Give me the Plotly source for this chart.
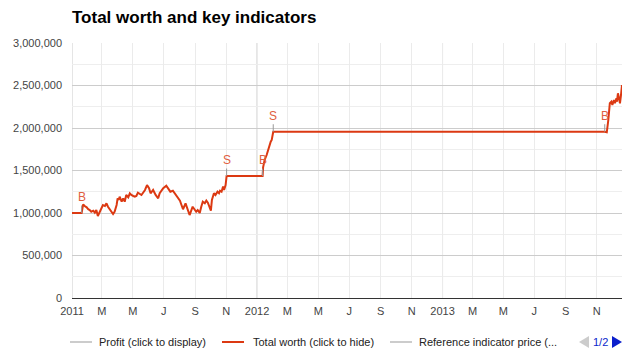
import plotly.graph_objects as go

# ---------------- data ----------------
dates = [
    "2011-01-01", "2011-01-20", "2011-01-21", "2011-01-23", "2011-01-26", "2011-01-30",
    "2011-02-02", "2011-02-05", "2011-02-08", "2011-02-12", "2011-02-15", "2011-02-18",
    "2011-02-21", "2011-02-25", "2011-02-28", "2011-03-03", "2011-03-07", "2011-03-10",
    "2011-03-13", "2011-03-17", "2011-03-20", "2011-03-23", "2011-03-26", "2011-03-30",
    "2011-04-01", "2011-04-03", "2011-04-05", "2011-04-09", "2011-04-12", "2011-04-15",
    "2011-04-18", "2011-04-22", "2011-04-25", "2011-04-28", "2011-05-02", "2011-05-05",
    "2011-05-08", "2011-05-11", "2011-05-18", "2011-05-25", "2011-05-29", "2011-06-02",
    "2011-06-05", "2011-06-10", "2011-06-15", "2011-06-20", "2011-06-23", "2011-06-30",
    "2011-07-06", "2011-07-10", "2011-07-14", "2011-07-19", "2011-07-25", "2011-07-29",
    "2011-08-02", "2011-08-05", "2011-08-08", "2011-08-13", "2011-08-18", "2011-08-21",
    "2011-08-27", "2011-08-31", "2011-09-03", "2011-09-06", "2011-09-10", "2011-09-13",
    "2011-09-16", "2011-09-20", "2011-09-23", "2011-09-26", "2011-09-30", "2011-10-02",
    "2011-10-04", "2011-10-08", "2011-10-11", "2011-10-15", "2011-10-18", "2011-10-20",
    "2011-10-23", "2011-10-26", "2011-10-28", "2011-10-31", "2011-11-02",
    "2012-01-12", "2012-01-13", "2012-01-16", "2012-01-20", "2012-01-23", "2012-01-25",
    "2012-01-28", "2012-01-30", "2012-02-02",
    "2013-11-17", "2013-11-21", "2013-11-24", "2013-11-27", "2013-11-30", "2013-12-02",
    "2013-12-05", "2013-12-07", "2013-12-10", "2013-12-11", "2013-12-13", "2013-12-15",
    "2013-12-17", "2013-12-19", "2013-12-21",
]
total_worth = [
    1000000, 1000000, 1035000, 1102000, 1082000, 1067000,
    1044000, 1035000, 1015000, 1027000, 1004000, 1035000,
    965000, 1015000, 1055000, 1094000, 1082000, 1114000,
    1074000, 1035000, 1004000, 988000, 1015000, 1094000,
    1173000, 1153000, 1192000, 1133000, 1173000, 1133000,
    1212000, 1185000, 1232000, 1212000, 1200000, 1192000,
    1200000, 1239000, 1212000, 1271000, 1329000, 1291000,
    1232000, 1271000, 1212000, 1173000, 1232000, 1291000,
    1321000, 1291000, 1251000, 1262000, 1212000, 1192000,
    1145000, 1094000, 1044000, 1114000, 1035000, 976000,
    1074000, 1044000, 1015000, 1035000, 1000000, 1074000,
    1133000, 1114000, 1145000, 1121000, 1055000, 1027000,
    1153000, 1232000, 1212000, 1251000, 1232000, 1262000,
    1251000, 1310000, 1271000, 1329000, 1435000,
    1435000, 1538000, 1624000, 1682000, 1741000, 1800000,
    1839000, 1859000, 1956000,
    1956000, 1950000, 2094000, 2291000, 2309000, 2271000,
    2329000, 2291000, 2349000, 2309000, 2408000, 2338000,
    2291000, 2388000, 2506000,
]

# buy / sell annotations on the total worth series
trade_dates = ["2011-01-20", "2011-11-02", "2012-01-12", "2012-02-02", "2013-11-17"]
trade_labels = ["B", "S", "B", "S", "B"]

# axis ticks
x_tick_vals = [
    "2011-01-01", "2011-03-01", "2011-05-01", "2011-07-01", "2011-09-01", "2011-11-01",
    "2012-01-01", "2012-03-01", "2012-05-01", "2012-07-01", "2012-09-01", "2012-11-01",
    "2013-01-01", "2013-03-01", "2013-05-01", "2013-07-01", "2013-09-01", "2013-11-01",
]
x_tick_text = ["2011", "M", "M", "J", "S", "N", "2012", "M", "M", "J", "S", "N",
               "2013", "M", "M", "J", "S", "N"]
y_tick_vals = [0, 500000, 1000000, 1500000, 2000000, 2500000, 3000000]

legend_names = ["Profit (click to display)", "Total worth (click to hide)",
                "Reference indicator price (..."]
legend_colors = ["#cccccc", "#dc3912", "#cccccc"]

# ---------------- figure ----------------
W, H = 640, 358
ML, MR, MT, MB = 72, 18, 43, 60
PW, PH = W - ML - MR, H - MT - MB
FONT = "Arial, 'Liberation Sans', sans-serif"
RED = "#dc3912"


def px_x(px):
    return (px - ML) / PW


def px_y(py):
    return (H - MB - py) / PH


fig = go.Figure()
fig.add_trace(go.Scatter(
    x=dates, y=total_worth, mode="lines",
    line=dict(color=RED, width=2), name=legend_names[1],
    hoverinfo="x+y", showlegend=False,
))

annotations = []
for d, lab in zip(trade_dates, trade_labels):
    v = total_worth[dates.index(d)]
    annotations.append(dict(
        x=d, y=v, xref="x", yref="y", text=lab, showarrow=True,
        arrowhead=0, arrowwidth=1, arrowcolor="#999999", ax=0, ay=-16,
        font=dict(family=FONT, size=12, color="#e0603f"),
    ))

shapes = []
# darker year gridlines
for tv, tt in zip(x_tick_vals, x_tick_text):
    if tt.isdigit():
        shapes.append(dict(type="line", xref="x", yref="paper", x0=tv, x1=tv, y0=0, y1=1,
                           line=dict(color="#cccccc", width=1), layer="below"))

# manual legend (Google-chart style)
leg_y = 342
leg_items = [(70, 97), (222, 251), (390, 417)]
for (lx, tx), name, col in zip(leg_items, legend_names, legend_colors):
    shapes.append(dict(type="line", xref="paper", yref="paper",
                       x0=px_x(lx), x1=px_x(lx + 22), y0=px_y(leg_y), y1=px_y(leg_y),
                       line=dict(color=col, width=2)))
    annotations.append(dict(x=px_x(tx), y=px_y(leg_y), xref="paper", yref="paper",
                            text=name, showarrow=False, xanchor="left", yanchor="middle",
                            font=dict(family=FONT, size=11, color="#222222")))
# pager
shapes.append(dict(type="path", xref="paper", yref="paper",
                   path=f"M {px_x(589)} {px_y(leg_y-6)} L {px_x(589)} {px_y(leg_y+6)} L {px_x(579)} {px_y(leg_y)} Z",
                   fillcolor="#cccccc", line=dict(width=0)))
shapes.append(dict(type="path", xref="paper", yref="paper",
                   path=f"M {px_x(612)} {px_y(leg_y-6)} L {px_x(612)} {px_y(leg_y+6)} L {px_x(622)} {px_y(leg_y)} Z",
                   fillcolor="#0b1fcc", line=dict(width=0)))
annotations.append(dict(x=px_x(600), y=px_y(leg_y), xref="paper", yref="paper",
                        text="1/2", showarrow=False, xanchor="center", yanchor="middle",
                        font=dict(family=FONT, size=11, color="#0b1fcc")))

fig.update_layout(
    width=W, height=H,
    margin=dict(l=ML, r=MR, t=MT, b=MB),
    paper_bgcolor="white", plot_bgcolor="white",
    title=dict(text="<b>Total worth and key indicators</b>", x=ML / W, xanchor="left",
               xref="container", y=1 - 17 / H, yanchor="middle", yref="container",
               font=dict(family=FONT, size=17, color="#000000")),
    showlegend=False,
    xaxis=dict(
        type="date", range=["2011-01-01", "2013-12-21"],
        tickvals=x_tick_vals, ticktext=x_tick_text,
        showgrid=True, gridcolor="#ebebeb", gridwidth=1,
        showline=False, zeroline=False, ticks="", ticklabelstandoff=5,
        tickfont=dict(family=FONT, size=11, color="#444444"),
    ),
    yaxis=dict(
        range=[0, 3000000], tickvals=y_tick_vals, tickformat=",",
        showgrid=True, gridcolor="#cccccc", gridwidth=1,
        minor=dict(dtick=250000, tick0=0, showgrid=True, gridcolor="#eeeeee"),
        zeroline=True, zerolinecolor="#333333", zerolinewidth=1,
        showline=False, ticks="", ticklabelstandoff=9,
        tickfont=dict(family=FONT, size=11, color="#444444"),
    ),
    annotations=annotations,
    shapes=shapes,
)

fig.write_html(
    "out.html",
    config={"displayModeBar": False},
    post_script="document.body.style.margin='0';document.body.style.overflow='hidden';",
)
